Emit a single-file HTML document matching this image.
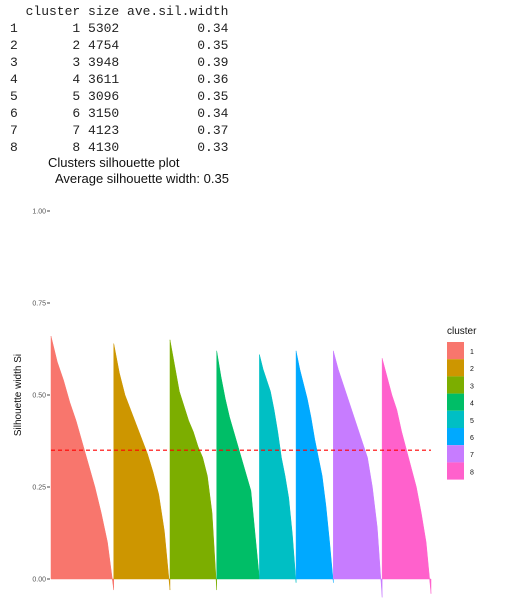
<!DOCTYPE html>
<html><head><meta charset="utf-8"><style>
body{margin:0;background:#fff;width:511px;height:613px;overflow:hidden;position:relative}
pre{margin:0;position:absolute;left:10px;top:3px;font-family:"Liberation Mono",monospace;font-size:13px;line-height:17px;color:#222}
.t{position:absolute;font-family:"Liberation Sans",sans-serif;font-size:13px;color:#111;white-space:nowrap}
svg{position:absolute;left:0;top:0}
</style></head><body>
<pre>  cluster size ave.sil.width
1       1 5302          0.34
2       2 4754          0.35
3       3 3948          0.39
4       4 3611          0.36
5       5 3096          0.35
6       6 3150          0.34
7       7 4123          0.37
8       8 4130          0.33</pre>
<div class="t" style="left:48px;top:155px">Clusters silhouette plot</div>
<div class="t" style="left:55px;top:171px">Average silhouette width: 0.35</div>
<svg id="chart" width="511" height="613"></svg>
<script>
const clusters=["1","2","3","4","5","6","7","8"];
const sizes=[5302,4754,3948,3611,3096,3150,4123,4130];
const colors=["#F8766D","#CD9600","#7CAE00","#00BE67","#00BFC4","#00A9FF","#C77CFF","#FF61CC"];
const s1=[0.66,0.59,0.54,0.48,0.43,0.37,0.31,0.25,0.18,0.10,-0.03];
const s2=[0.64,0.56,0.50,0.46,0.42,0.38,0.34,0.29,0.23,0.13,-0.03];
const s3=[0.65,0.58,0.51,0.47,0.43,0.40,0.36,0.33,0.28,0.18,-0.03];
const s4=[0.62,0.55,0.49,0.44,0.40,0.36,0.32,0.28,0.24,0.12,0.00];
const s5=[0.61,0.57,0.54,0.51,0.46,0.40,0.33,0.28,0.22,0.12,-0.01];
const s6=[0.62,0.57,0.53,0.49,0.44,0.38,0.33,0.28,0.20,0.10,-0.01];
const s7=[0.62,0.57,0.53,0.49,0.45,0.41,0.37,0.33,0.25,0.14,-0.05];
const s8=[0.60,0.55,0.50,0.46,0.40,0.35,0.30,0.25,0.18,0.10,-0.04];
const profiles=[s1,s2,s3,s4,s5,s6,s7,s8];
const avgWidth=0.35;
const yTicks=[0,0.25,0.5,0.75,1.0];
const yTickLabels=["0.00","0.25","0.50","0.75","1.00"];
const NS="http://www.w3.org/2000/svg";
const svg=document.getElementById('chart');
const X0=51,X1=431,Y0=579,Y1=211;
const total=sizes.reduce((a,b)=>a+b,0);
const x=i=>X0+(X1-X0)*i/total;
const y=v=>Y0-(Y0-Y1)*v;
function mk(t,a){const e=document.createElementNS(NS,t);for(const k in a)e.setAttribute(k,a[k]);svg.appendChild(e);return e;}
yTicks.forEach((v,i)=>{
 const tk=mk('line',{x1:47,x2:50,y1:y(v),y2:y(v),stroke:'#444','stroke-width':1});
 
 
 const lb=mk('text',{x:46,y:y(v)+2.5,'text-anchor':'end','font-size':7,'font-family':'Liberation Sans, sans-serif',fill:'#555'});
 lb.textContent=yTickLabels[i];
 
 
});
let cum=0;
profiles.forEach((p,c)=>{
 const st=cum,n=sizes[c];cum+=n;
 let d=`M${x(st)},${y(0)}`;
 p.forEach((v,k)=>{d+=` L${x(st+n*k/(p.length-1))},${y(v)}`;});
 d+=` L${x(st+n)},${y(0)} Z`;
 const path=mk('path',{d:d,fill:colors[c],stroke:colors[c],'stroke-width':0.5});
 
 
});
const al=mk('line',{x1:X0,x2:X1,y1:y(avgWidth),y2:y(avgWidth),stroke:'#FF0000','stroke-width':1.2,'stroke-dasharray':'4,3'});


const yl=mk('text',{x:0,y:0,transform:'translate(24,395) rotate(-90)','text-anchor':'middle','font-size':10,'font-family':'Liberation Sans, sans-serif',fill:'#111'});
yl.setAttribute('transform','translate(21,395) rotate(-90)');
yl.textContent='Silhouette width Si';


const lt=mk('text',{x:447,y:334,'font-size':10,'font-family':'Liberation Sans, sans-serif',fill:'#111'});
lt.textContent='cluster';


clusters.forEach((c,i)=>{
 const r=mk('rect',{x:447,y:342+i*17.2,width:17,height:17.2,fill:colors[i]});
 
 
 const t=mk('text',{x:470,y:354+i*17.2,'font-size':7,'font-family':'Liberation Sans, sans-serif',fill:'#111'});
 t.textContent=c;
 
 
});
</script>
</body></html>
